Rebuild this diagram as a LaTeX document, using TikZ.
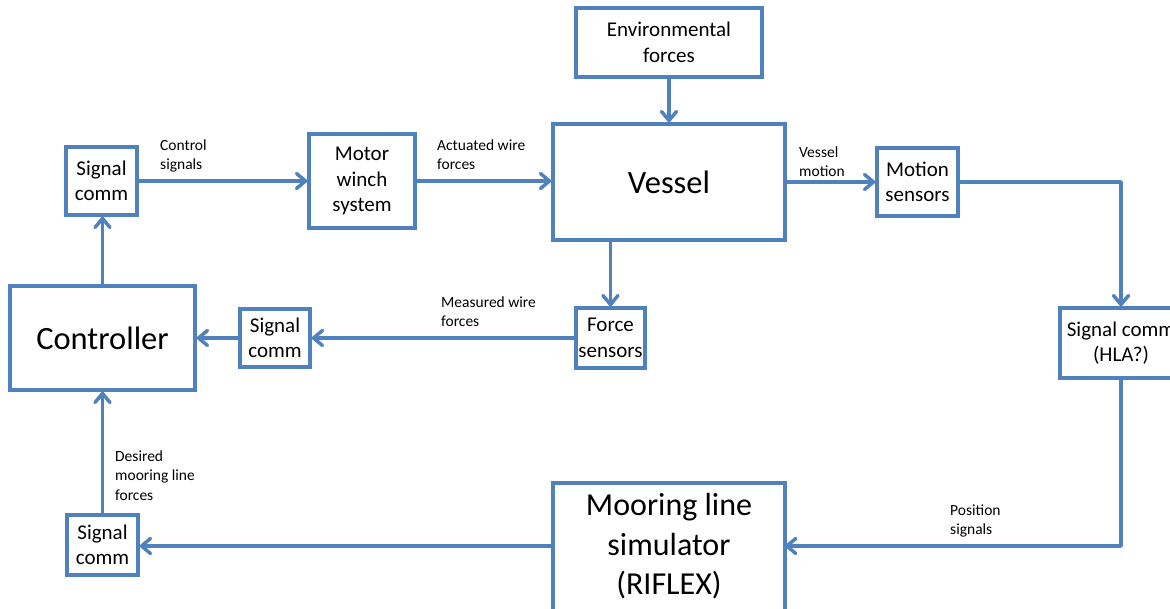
\documentclass[tikz,border=0pt]{standalone}
\usepackage{fontspec}
\setmainfont{Carlito}
\usetikzlibrary{arrows.meta}
\definecolor{officeblue}{HTML}{4F81BD}
\newcommand{\lines}[1]{\begin{tabular}[t]{@{}l@{}}#1\end{tabular}}
\newcommand{\cstack}[1]{\begin{tabular}{@{}c@{}}#1\end{tabular}}
\tikzset{
  blk/.style={draw=officeblue, line width=3.5pt, fill=white, inner sep=0pt,
    align=center, font=\fontsize{21}{25.5}\selectfont},
  bigtext/.style={font=\fontsize{32.5}{40}\selectfont},
  lbl/.style={anchor=base west, inner sep=0pt, font=\fontsize{15.5}{19.5}\selectfont},
  flow/.style={draw=officeblue, line width=3.5pt, line join=round,
    -{Straight Barb[length=9pt,width=15pt,round]}}
}
\begin{document}
\begin{tikzpicture}[x=1pt,y=-1pt]
\useasboundingbox (0,0) rectangle (1170,608);

% blocks
\node[blk, minimum width=186, minimum height=69] (env) at (669,42.5) {Environmental\\forces};
\node[blk, bigtext, minimum width=232, minimum height=116] (vessel) at (669,182) {Vessel};
\node[blk, minimum width=71, minimum height=68] (sigtop) at (101.5,181) {Signal\\comm};
\node[blk, minimum width=106, minimum height=94] (winch) at (362,181) {Motor\\winch\\system};
\node[blk, minimum width=81, minimum height=68] (motion) at (917.5,182) {Motion\\sensors};
\node[blk, bigtext, minimum width=185, minimum height=104] (ctrl) at (102.5,338) {Controller};
\node[blk, minimum width=70, minimum height=58] (sigmid) at (275,338) {Signal\\comm};
\node[blk, minimum width=69, minimum height=60] (force) at (610.5,338) {Force\\sensors};
\node[blk, minimum width=122, minimum height=70] (hla) at (1121,343) {Signal comm\\(HLA?)};
\node[blk, minimum width=71, minimum height=60] (sigbot) at (102.5,545) {Signal\\comm};
% the simulator block runs on below the lower edge; its text sits a little above centre
\node[blk, font=\fontsize{32}{39.5}\selectfont, minimum width=232, minimum height=137] (moor) at (669,551.5)
  {\raisebox{4pt}[\height][\depth]{\cstack{Mooring line\\simulator\\(RIFLEX)}}};
\coordinate (moorin) at (785,546);
\coordinate (moorout) at (553,546);

% signal flow
\draw[flow] (sigtop.east) -- (winch.west);
\draw[flow] (winch.east) -- (winch.east -| vessel.west);
\draw[flow] (env.south) -- (vessel.north);
\draw[flow] (vessel.east) -- (motion.west);
\draw[flow] (motion.east) -| (hla.north);
\draw[flow] (vessel.south -| force.north) -- (force.north);
\draw[flow] (force.west) -- (sigmid.east);
\draw[flow] (sigmid.west) -- (ctrl.east);
\draw[flow] (ctrl.north) -- (ctrl.north |- sigtop.south);
\draw[flow] (sigbot.north) -- (ctrl.south);
\draw[flow] (hla.south) |- (moorin);
\draw[flow] (moorout) -- (moorout -| sigbot.east);

% signal labels
\node[lbl] (lctrl) at (160,150) {\lines{Control\\signals}};
\node[lbl] (lact) at (437,150) {\lines{Actuated wire\\forces}};
\node[lbl] (lmot) at (799,157) {\lines{Vessel\\motion}};
\node[lbl] (lmeas) at (441,307) {\lines{Measured wire\\forces}};
\node[lbl] (ldes) at (115,461) {\lines{Desired\\mooring line\\forces}};
\node[lbl] (lpos) at (950,515) {\lines{Position\\signals}};
\end{tikzpicture}
\end{document}
